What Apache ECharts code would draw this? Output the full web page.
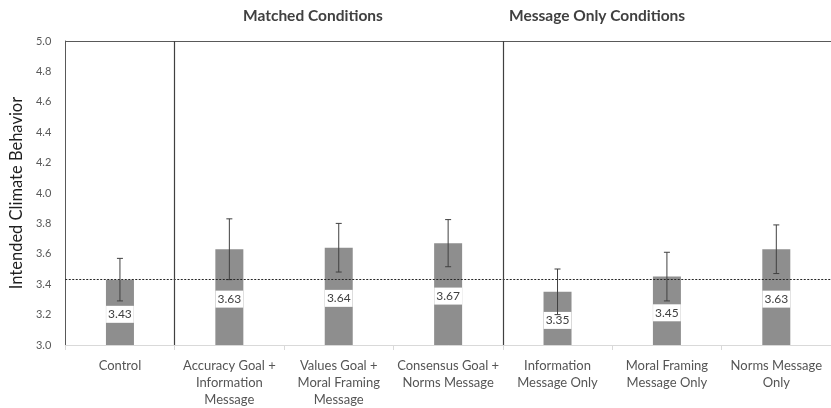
<!DOCTYPE html>
<html>
<head>
<meta charset="utf-8">
<script src="https://cdn.jsdelivr.net/npm/echarts@6/dist/echarts.min.js"></script>
<style>
  html, body { margin: 0; padding: 0; background: #fff; }
  #chart { width: 831px; height: 408px; }
</style>
</head>
<body>
<div id="chart"></div>
<script>
// Conditions along the x axis
const categories = [
  'Control',
  'Accuracy Goal +\nInformation\nMessage',
  'Values Goal +\nMoral Framing\nMessage',
  'Consensus Goal +\nNorms Message',
  'Information\nMessage Only',
  'Moral Framing\nMessage Only',
  'Norms Message\nOnly'
];
// Mean intended climate behavior per condition
const means = [3.43, 3.63, 3.64, 3.67, 3.35, 3.45, 3.63];
// Error bar half-widths
const errors = [0.14, 0.20, 0.16, 0.155, 0.15, 0.16, 0.16];
// Reference level (control mean)
const controlLevel = 3.43;
// Group dividers sit after category index 1 and 4 (in category units)
const dividers = [1, 4];
const groupTitles = ['Matched Conditions', 'Message Only Conditions'];

const FONT = 'Lato, "Liberation Sans", sans-serif';
const chart = echarts.init(document.getElementById('chart'));

const errData = means.map((m, i) => [i, m - errors[i], m + errors[i]]);

chart.setOption({
  animation: false,
  textStyle: { fontFamily: FONT },
  grid: { left: 61, top: 41, width: 772, height: 304 },
  xAxis: [
    {
      type: 'category',
      data: categories,
      axisLine: { lineStyle: { color: '#d9d9d9' } },
      axisTick: { show: true, length: 5, lineStyle: { color: '#d9d9d9' } },
      axisLabel: {
        interval: 0, color: '#555', fontSize: 13, lineHeight: 17,
        margin: 12, fontFamily: FONT
      }
    },
    { type: 'value', min: 0, max: 7, show: false }
  ],
  yAxis: {
    type: 'value', min: 3.0, max: 5.0, interval: 0.2,
    name: 'Intended Climate Behavior',
    nameLocation: 'middle', nameGap: 38,
    nameTextStyle: { color: '#1f1f1f', fontSize: 16.5, fontFamily: FONT },
    axisLine: { show: true, lineStyle: { color: '#595959' } },
    axisTick: { show: false },
    splitLine: { show: false },
    axisLabel: {
      color: '#595959', fontSize: 11, margin: 14, fontFamily: FONT,
      formatter: v => v.toFixed(1)
    }
  },
  series: [
    {
      type: 'bar',
      data: means,
      barWidth: 28,
      itemStyle: { color: '#8e8e8e' },
      label: {
        show: true, position: 'inside', offset: [0, 2],
        formatter: p => p.value.toFixed(2),
        color: '#404040', fontSize: 12, fontFamily: FONT,
        backgroundColor: '#fff', padding: [3, 2, 2, 2]
      },
      markLine: {
        silent: true, symbol: 'none', label: { show: false },
        data: [
          { yAxis: controlLevel, lineStyle: { type: [2, 1.5], color: '#262626', width: 1 } },
          { yAxis: 5.0, lineStyle: { type: 'solid', color: '#595959', width: 1.2 } }
        ]
      },
      z: 2
    },
    {
      type: 'custom',
      data: errData,
      renderItem: (params, api) => {
        const x = api.value(0);
        const lo = api.coord([x, api.value(1)]);
        const hi = api.coord([x, api.value(2)]);
        const cap = 3;
        const style = { stroke: '#404040', lineWidth: 1 };
        return {
          type: 'group',
          children: [
            { type: 'line', shape: { x1: lo[0], y1: lo[1], x2: hi[0], y2: hi[1] }, style },
            { type: 'line', shape: { x1: lo[0] - cap, y1: lo[1], x2: lo[0] + cap, y2: lo[1] }, style },
            { type: 'line', shape: { x1: hi[0] - cap, y1: hi[1], x2: hi[0] + cap, y2: hi[1] }, style }
          ]
        };
      },
      z: 3
    },
    {
      type: 'line',
      xAxisIndex: 1,
      data: [],
      markLine: {
        silent: true, symbol: 'none', label: { show: false },
        lineStyle: { type: 'solid', color: '#404040', width: 1.2 },
        data: dividers.map(d => ({ xAxis: d }))
      }
    }
  ],
  graphic: [
    {
      type: 'text', left: 243, top: 8,
      style: {
        text: groupTitles[0], fill: '#404040', fontSize: 15.5, fontWeight: 'bold',
        fontFamily: FONT
      }
    },
    {
      type: 'text', left: 509, top: 8,
      style: {
        text: groupTitles[1], fill: '#404040', fontSize: 15.5, fontWeight: 'bold',
        fontFamily: FONT
      }
    }
  ]
});
</script>
</body>
</html>
